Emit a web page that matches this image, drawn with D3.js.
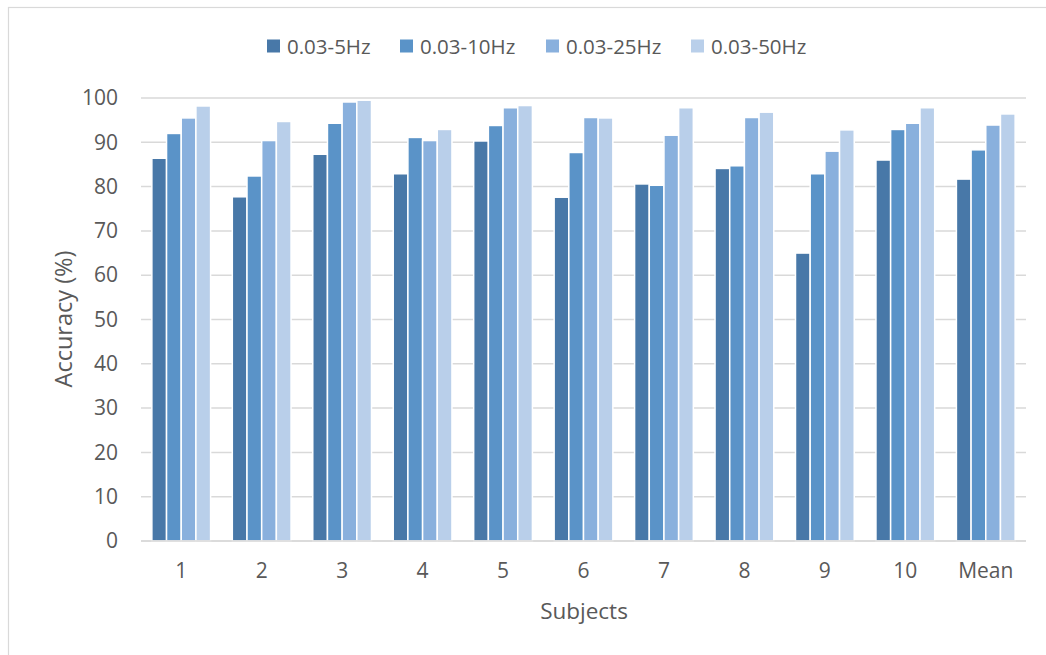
<!DOCTYPE html>
<html>
<head>
<meta charset="utf-8">
<script src="https://cdn.jsdelivr.net/npm/d3@7"></script>
<style>
  html, body { margin: 0; padding: 0; background: #fff; }
  svg { display: block; font-family: "Open Sans", sans-serif; }
</style>
</head>
<body>
<svg id="chart" width="1046" height="655"></svg>
<script>
const subjects = ["1", "2", "3", "4", "5", "6", "7", "8", "9", "10", "Mean"];
const seriesNames = ["0.03-5Hz", "0.03-10Hz", "0.03-25Hz", "0.03-50Hz"];
const band5  = [86.4, 77.7, 87.3, 82.9, 90.3, 77.6, 80.6, 84.1, 65.0, 86.0, 81.7];
const band10 = [92.0, 82.4, 94.3, 91.1, 93.8, 87.7, 80.3, 84.7, 82.9, 92.9, 88.3];
const band25 = [95.5, 90.4, 99.1, 90.4, 97.8, 95.6, 91.6, 95.6, 88.0, 94.3, 93.9];
const band50 = [98.2, 94.7, 99.5, 92.9, 98.3, 95.5, 97.8, 96.8, 92.8, 97.8, 96.4];
const yTicks = [0, 10, 20, 30, 40, 50, 60, 70, 80, 90, 100];
const colors = ["#4878A8", "#5A93C8", "#89B0DD", "#B9CFEA"];

const seriesValues = [band5, band10, band25, band50];

const svg = d3.select("#chart");
const x0 = 141, x1r = 1026, yTop = 98, yBot = 541;

// outer border
svg.append("rect").attr("x", 8.5).attr("y", 7.5).attr("width", 1100).attr("height", 700)
  .attr("fill", "none").attr("stroke", "#d9d9d9").attr("stroke-width", 1.2);

const x = d3.scaleBand().domain(subjects).range([x0, x1r]).paddingInner(0.27).paddingOuter(0.135);
const xs = d3.scaleBand().domain(d3.range(seriesNames.length)).range([0, x.bandwidth()]).padding(0);
const y = d3.scaleLinear().domain([0, 100]).range([yBot, yTop]);

// gridlines
svg.append("g").selectAll("line").data(yTicks).join("line")
  .attr("x1", x0).attr("x2", x1r)
  .attr("y1", d => y(d)).attr("y2", d => y(d))
  .attr("stroke", "#d9d9d9").attr("stroke-width", 1.5);

// y axis labels
const yAxis = d3.axisLeft(y).tickValues(yTicks).tickSize(0).tickPadding(0);
const gy = svg.append("g").attr("transform", `translate(118,0)`).call(yAxis);
gy.select(".domain").remove();
gy.selectAll("text").attr("font-size", 21).attr("fill", "#595959")
  .attr("font-family", "Open Sans, sans-serif");

// bars
const data = [];
subjects.forEach((s, i) => seriesValues.forEach((vals, k) => data.push({ s, k, v: vals[i] })));
svg.append("g").selectAll("rect").data(data).join("rect")
  .attr("x", d => x(d.s) + xs(d.k))
  .attr("y", d => y(d.v))
  .attr("width", xs.bandwidth())
  .attr("height", d => y(0) - y(d.v))
  .attr("fill", d => colors[d.k])
  .attr("stroke", "#fff").attr("stroke-width", 1.5);

// baseline
svg.append("line").attr("x1", x0).attr("x2", x1r).attr("y1", yBot).attr("y2", yBot)
  .attr("stroke", "#d9d9d9").attr("stroke-width", 1.5);

// x axis labels
const xAxis = d3.axisBottom(x).tickSize(0).tickPadding(0);
const gx = svg.append("g").attr("transform", `translate(0,565)`).call(xAxis);
gx.select(".domain").remove();
gx.selectAll("text").attr("font-size", 21).attr("fill", "#595959")
  .attr("font-family", "Open Sans, sans-serif").attr("dy", "0.3em").attr("y", 7);

// axis titles
svg.append("text").attr("x", 584).attr("y", 610).attr("text-anchor", "middle")
  .attr("dominant-baseline", "central")
  .attr("font-size", 22.5).attr("fill", "#595959").text("Subjects");
svg.append("text").attr("transform", "translate(63,319) rotate(-90)").attr("text-anchor", "middle")
  .attr("dominant-baseline", "central")
  .attr("font-size", 23.5).attr("fill", "#595959").text("Accuracy (%)");

// legend
const legX = [267, 400, 546, 691];
const leg = svg.append("g").selectAll("g").data(seriesNames).join("g")
  .attr("transform", (d, i) => `translate(${legX[i]},46)`);
leg.append("rect").attr("x", 0).attr("y", -6.5).attr("width", 13).attr("height", 13)
  .attr("fill", (d, i) => colors[i]);
leg.append("text").attr("x", 20).attr("y", 0).attr("dominant-baseline", "central")
  .attr("font-size", 20.5).attr("fill", "#595959").text(d => d);
</script>
</body>
</html>
